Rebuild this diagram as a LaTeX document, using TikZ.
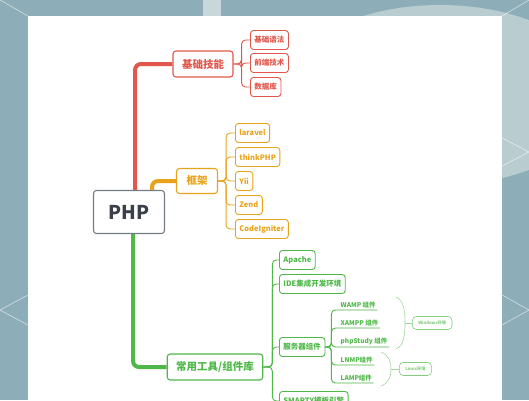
\documentclass[tikz,border=0pt]{standalone}
\usepackage{fontspec}
\setmainfont{Noto Sans CJK SC}
\usetikzlibrary{positioning,calc}
\definecolor{bgblue}{HTML}{8DAEB8}
\definecolor{bglight}{HTML}{B9CDD1}
\definecolor{redc}{HTML}{E2574C}
\definecolor{orangec}{HTML}{E9A31B}
\definecolor{greenc}{HTML}{4FB848}
\definecolor{grayc}{HTML}{767C86}
\definecolor{darkc}{HTML}{3B404B}

\tikzset{
  box/.style={draw=#1, text=#1, fill=white, rounded corners=3pt, line width=1.1pt},
  root/.style={box=grayc, text=darkc, minimum width=71pt, minimum height=43pt,
    font=\bfseries\fontsize{19}{19}\selectfont},
  topic/.style={box=#1, minimum height=26pt, inner xsep=9pt,
    font=\bfseries\fontsize{10.5}{11}\selectfont},
  sub/.style={box=#1, line width=0.9pt, minimum height=19pt, inner xsep=4pt,
    font=\bfseries\fontsize{7.5}{8}\selectfont},
  leaf/.style={text=greenc, inner sep=1.5pt, font=\bfseries\fontsize{6.5}{7}\selectfont},
  note/.style={box=greenc!70, line width=0.6pt, rounded corners=4pt, minimum height=13pt,
    inner xsep=6pt, font=\bfseries\fontsize{4.2}{5}\selectfont},
  trunk/.style={draw=#1, line width=4pt, rounded corners=6pt},
  twig/.style={draw=#1, line width=0.9pt, rounded corners=4pt},
  brace/.style={draw=greenc!55, line width=0.6pt},
}

\begin{document}
\begin{tikzpicture}[x=1pt, y=-1pt]
  % Fundo
  \clip (0,0) rectangle (529,400);
  \fill[bgblue] (0,0) rectangle (529,400);
  \fill[bglight] (440,95) ellipse [x radius=160pt, y radius=90pt];
  \fill[bglight!80] (203,0) rectangle (221,16);
  \draw[white, opacity=0.6, line width=0.6pt] (0,0) -- (28,16) (529,0) -- (502,16)
    (28,295) -- (0,310) -- (28,325) (502,295) -- (529,310) -- (502,325)
    (502,138) -- (529,152) -- (502,166);
  \fill[white] (28,16) rectangle (502,400);

  % Raiz
  \node[root] (php) at (129,212) {PHP};

  % Ramo vermelho
  \node[topic=redc] (jcjn) at (203,64) {基础技能};
  \node[sub=redc, anchor=west] (jcyf) at (250,40) {基础语法};
  \node[sub=redc, anchor=west] (qdjs) at (250,63) {前端技术};
  \node[sub=redc, anchor=west] (sjk) at (250,87) {数据库};

  % Ramo laranja
  \node[topic=orangec, minimum height=25pt, inner xsep=10pt] (kj) at (197,181) {框架};
  \node[sub=orangec, anchor=west] (laravel) at (235,133) {laravel};
  \node[sub=orangec, anchor=west] (think) at (235,157) {thinkPHP};
  \node[sub=orangec, anchor=west] (yii) at (235,181) {Yii};
  \node[sub=orangec, anchor=west] (zend) at (235,205) {Zend};
  \node[sub=orangec, anchor=west] (ci) at (235,229) {CodeIgniter};

  % Ramo verde
  \node[topic=greenc] (cygj) at (215,367) {常用工具/组件库};
  \node[sub=greenc, anchor=west] (apache) at (279,260) {Apache};
  \node[sub=greenc, anchor=west] (ide) at (279,284) {IDE集成开发环境};
  \node[sub=greenc, anchor=west] (fwq) at (279,347) {服务器组件};
  \node[sub=greenc, anchor=west] (smarty) at (279,401) {SMARTY模板引擎};

  % Componentes do servidor
  \node[leaf, anchor=south west] (wamp) at (339,310) {WAMP 组件};
  \node[leaf, anchor=south west] (xampp) at (339,328) {XAMPP 组件};
  \node[leaf, anchor=south west] (phpstudy) at (339,347) {phpStudy 组件};
  \node[leaf, anchor=south west] (lnmp) at (339,365) {LNMP组件};
  \node[leaf, anchor=south west] (lamp) at (339,383) {LAMP组件};
  \node[note, anchor=west] (win) at (412,323) {Windows环境};
  \node[note, anchor=west] (linux) at (399,369) {Linux环境};

  % Ligacoes
  \draw[trunk=redc] ([xshift=6pt]php.north) |- (jcjn.west);
  \draw[trunk=orangec] ([xshift=23pt]php.north) |- (kj.west);
  \draw[trunk=greenc] ([xshift=4pt]php.south) |- (cygj.west);

  \foreach \c in {jcyf,qdjs,sjk}
    \draw[twig=redc] (jcjn.east) -- ++(8,0) |- (\c.west);
  \foreach \c in {laravel,think,yii,zend,ci}
    \draw[twig=orangec] (kj.east) -- ++(8,0) |- (\c.west);
  \foreach \c in {apache,ide,fwq,smarty}
    \draw[twig=greenc] (cygj.east) -- ++(9,0) |- (\c.west);
  \foreach \c in {wamp,xampp,phpstudy,lnmp,lamp}
    \draw[twig=greenc] (fwq.east) -- ++(6,0) |- (\c.south east);

  % Chaves
  \draw[brace] (396,297) .. controls (404,300) and (405,312) .. (405,323)
    .. controls (405,334) and (404,346) .. (396,349);
  \draw[brace] (405,323) -- (win.west);
  \draw[brace] (381,352) .. controls (389,355) and (391,362) .. (391,369)
    .. controls (391,376) and (389,383) .. (381,386);
  \draw[brace] (391,369) -- (linux.west);
\end{tikzpicture}
\end{document}
